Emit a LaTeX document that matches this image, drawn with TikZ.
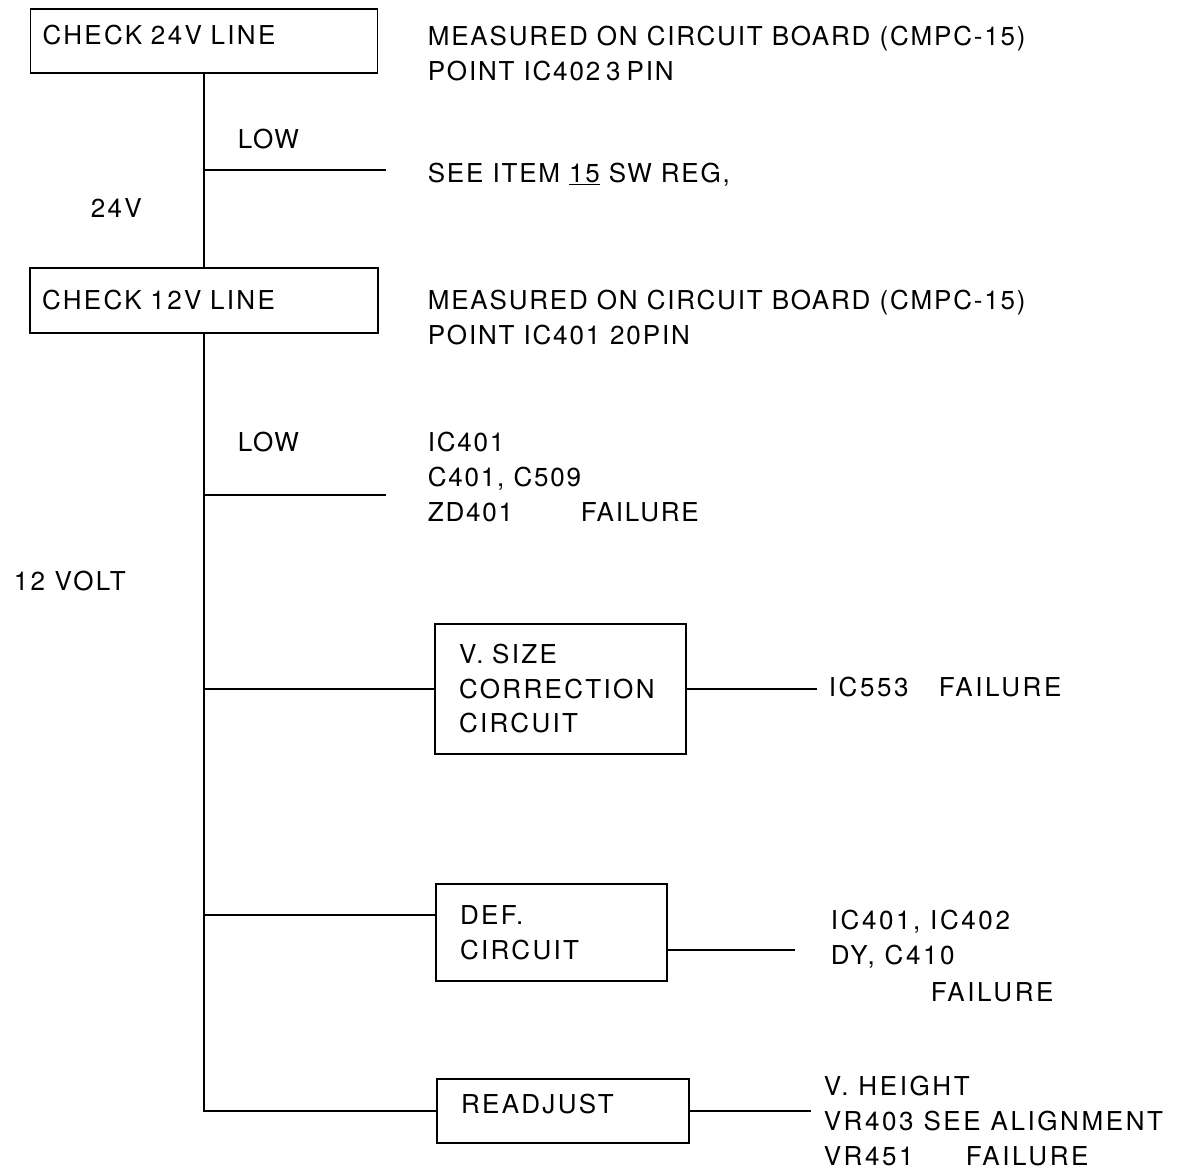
\documentclass[tikz,border=0pt]{standalone}
\usepackage{fontspec}
\setmainfont{TeX Gyre Heros}
\newfontfamily\lfont[LetterSpace=9]{TeX Gyre Heros}
\newfontfamily\rfont[LetterSpace=7]{TeX Gyre Heros}
\newfontfamily\ofont[LetterSpace=10]{TeX Gyre Heros}
\begin{document}
\begin{tikzpicture}[x=1pt,y=-1pt,
  line width=1.6pt,
  stepbox/.style={draw, rectangle, inner ysep=0pt, align=left,
    font=\lfont\fontsize{26}{34.5}\selectfont},
  txt/.style={anchor=north west, inner sep=0pt, align=left,
    font=\rfont\fontsize{26}{35}\selectfont},
  ltxt/.style={anchor=north west, inner sep=0pt, align=left,
    font=\lfont\fontsize{26}{35}\selectfont},
  otxt/.style={anchor=north west, inner sep=0pt, align=left,
    font=\ofont\fontsize{26}{35}\selectfont},
  wire/.style={draw, line width=1.6pt}
]
\path[use as bounding box] (0,0) rectangle (1177,1170);

% boxes
\node[stepbox, minimum width=347pt, minimum height=64pt, text width=323pt, inner xsep=12pt, text depth=12pt] (b24) at (204,41) {CHECK 24V LINE};
\node[stepbox, minimum width=348pt, minimum height=65pt, text width=324pt, inner xsep=12pt] (b12) at (204,300.5) {CHECK 12V LINE};
\node[stepbox, minimum width=251pt, minimum height=130pt, text width=203pt, inner xsep=24pt] (bvs) at (560.5,689) {V. SIZE\\CORRECTION\\CIRCUIT};
\node[stepbox, minimum width=231pt, minimum height=97pt, text width=183pt, inner xsep=24pt] (bdef) at (551.5,932.5) {DEF.\\CIRCUIT};
\node[stepbox, minimum width=252pt, minimum height=64pt, text width=204pt, inner xsep=24pt, text depth=14pt] (bre) at (563,1111) {READJUST};

% free texts
\node[txt] (low1) at (237,128.5) {LOW};
\node[ltxt] (v24) at (90,197.5) {24V};
\node[txt] (m1) at (427,25.5) {MEASURED ON CIRCUIT BOARD (CMPC-15)\\POINT IC402\hspace{6pt}3\hspace{6pt}PIN};
\node[txt] (s1) at (427,162.5) {SEE ITEM \underline{15} SW REG,};
\node[txt] (m2) at (427,289.5) {MEASURED ON CIRCUIT BOARD (CMPC-15)\\POINT IC401\hspace{10pt}20\hspace{2pt}PIN};
\node[txt] (low2) at (237,431.5) {LOW};
\node[txt] (f1) at (427,431.5) {IC401\\C401, C509\\\makebox[153pt][l]{ZD401}FAILURE};
\node[ltxt] (v12) at (13,570.5) {12 VOLT};
\node[otxt] (o1) at (828,676.5) {\makebox[110pt][l]{IC553}FAILURE};
\node[otxt] (o2) at (830,909.5) {IC401, IC402\\DY, C410\\[2pt]\hspace*{100pt}FAILURE};
\node[otxt] (o3) at (823,1075.5) {V. HEIGHT\\VR403 SEE ALIGNMENT\\\makebox[142pt][l]{VR451}FAILURE};

% junction coordinates
\coordinate (j1) at (204,170);
\coordinate (e1) at (386,170);
\coordinate (j2) at (204,495);
\coordinate (e2) at (386,495);
\coordinate (jd) at (204,915);
\coordinate (ov) at (817,689);
\coordinate (od) at (795,950);
\coordinate (ore) at (811,1111);

% connectors
\draw[wire] (b24.south) -- (b12.north);
\draw[wire] (j1) -- (e1);
\draw[wire] (b12.south) |- (bre.west);
\draw[wire] (j2) -- (e2);
\draw[wire] (b12.south |- bvs.west) -- (bvs.west);
\draw[wire] (jd) -- (jd -| bdef.west);
\draw[wire] (bvs.east) -- (ov);
\draw[wire] (od -| bdef.east) -- (od);
\draw[wire] (bre.east) -- (ore);
\end{tikzpicture}
\end{document}
